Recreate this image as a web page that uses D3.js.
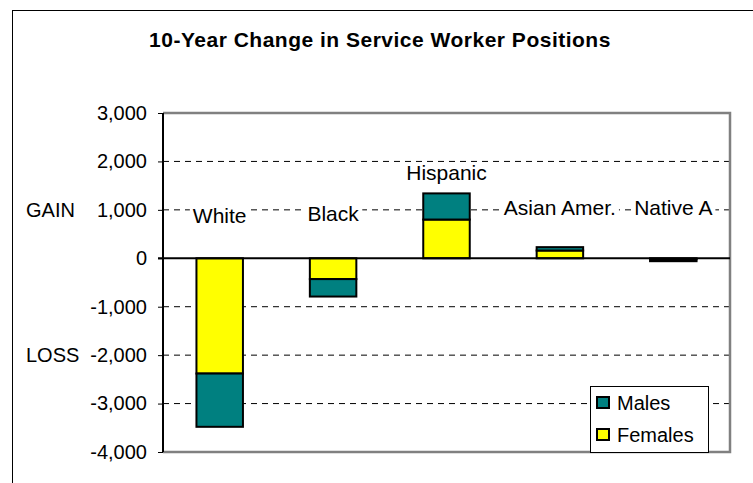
<!DOCTYPE html>
<html>
<head>
<meta charset="utf-8">
<script src="https://cdn.jsdelivr.net/npm/d3@7"></script>
<style>
  html, body { margin: 0; padding: 0; background: #fff; }
  svg { display: block; font-family: "Liberation Sans", Arial, sans-serif; }
</style>
</head>
<body>
<svg id="chart" width="753" height="483"></svg>
<script>
const title = "10-Year Change in Service Worker Positions";
const categories = ["White", "Black", "Hispanic", "Asian Amer.", "Native A"];
const seriesNames = ["Females", "Males"];
const females = [-2380, -430, 800, 160, -20];
const males = [-1100, -360, 540, 70, -40];
const labelAnchors = [730, 770, 1620, 895, 895];
const yTicks = [-4000, -3000, -2000, -1000, 0, 1000, 2000, 3000];
const sideLabels = [{text: "GAIN", value: 1000}, {text: "LOSS", value: -2000}];
const legendOrder = ["Males", "Females"];
const colors = {Females: "#FFFF00", Males: "#008080"};

const svg = d3.select("#chart");
const plot = {left: 163, right: 730, top: 113, bottom: 452};

// outer chart frame
svg.append("rect").attr("x", 12.5).attr("y", 10.5).attr("width", 800).attr("height", 600)
  .attr("fill", "#fff").attr("stroke", "#000").attr("stroke-width", 1);

svg.append("text").attr("x", 380).attr("y", 47).attr("text-anchor", "middle")
  .attr("font-size", 21).attr("font-weight", "bold").attr("letter-spacing", 0.5)
  .text(title);

const x = d3.scaleBand().domain(categories).range([plot.left, plot.right]);
const y = d3.scaleLinear().domain([-4000, 3000]).range([plot.bottom, plot.top]);

// dashed gridlines
svg.append("g").selectAll("line")
  .data(yTicks.filter(t => t !== 0 && t !== 3000 && t !== -4000))
  .join("line")
  .attr("x1", plot.left).attr("x2", plot.right)
  .attr("y1", d => y(d)).attr("y2", d => y(d))
  .attr("stroke", "#000").attr("stroke-width", 1).attr("stroke-dasharray", "6,5");

// plot area border (gray)
svg.append("path")
  .attr("d", `M${plot.left},${plot.top}H${plot.right}V${plot.bottom}H${plot.left}`)
  .attr("fill", "none").attr("stroke", "#808080").attr("stroke-width", 2.5);

// stacked bars
const rows = categories.map((c, i) => ({cat: c, Females: females[i], Males: males[i]}));
const stack = d3.stack().keys(seriesNames).offset(d3.stackOffsetDiverging);
const stacked = stack(rows);
const bw = x.bandwidth() * 0.41;

const labels = svg.append("g").attr("font-size", 21);
labels.selectAll("text").data(categories).join("text")
  .attr("x", d => x(d) + x.bandwidth() / 2)
  .attr("y", (d, i) => y(labelAnchors[i]))
  .attr("text-anchor", "middle")
  .text(d => d);

// white background behind labels to break gridlines
labels.selectAll("text").each(function() {
  const b = this.getBBox();
  labels.insert("rect", () => this).attr("x", b.x - 3).attr("y", b.y + 2)
    .attr("width", b.width + 6).attr("height", b.height - 4).attr("fill", "#fff");
});

svg.append("g").selectAll("g").data(stacked).join("g")
  .attr("fill", d => colors[d.key])
  .selectAll("rect").data(d => d).join("rect")
  .attr("x", d => x(d.data.cat) + (x.bandwidth() - bw) / 2)
  .attr("width", bw)
  .attr("y", d => y(Math.max(d[0], d[1])))
  .attr("height", d => Math.abs(y(d[0]) - y(d[1])))
  .attr("stroke", "#000").attr("stroke-width", 2);

// y axis
const fmt = d3.format(",");
const yAxis = d3.axisLeft(y).tickValues(yTicks).tickSize(5).tickPadding(11)
  .tickFormat(d => fmt(d).replace("\u2212", "-"));
const ya = svg.append("g").attr("transform", `translate(${plot.left},0)`).call(yAxis);
ya.select(".domain").attr("stroke", "#000").attr("stroke-width", 2)
  .attr("d", `M0,${plot.top}V${plot.bottom}`);
ya.selectAll(".tick line").attr("stroke", "#000").attr("stroke-width", 1);
ya.selectAll(".tick text").attr("font-size", 20).attr("fill", "#000")
  .attr("font-family", "Liberation Sans, Arial, sans-serif");

// zero line
svg.append("line").attr("x1", plot.left - 5).attr("x2", plot.right)
  .attr("y1", y(0)).attr("y2", y(0)).attr("stroke", "#000").attr("stroke-width", 2);

// GAIN / LOSS
svg.append("g").selectAll("text").data(sideLabels).join("text")
  .attr("x", 26).attr("y", d => y(d.value)).attr("dy", "0.35em")
  .attr("font-size", 20).text(d => d.text);

// legend
const lg = svg.append("g").attr("transform", "translate(590,386)");
lg.append("rect").attr("x", 0.5).attr("y", 0.5).attr("width", 118).attr("height", 66)
  .attr("fill", "#fff").attr("stroke", "#000").attr("stroke-width", 1);
const li = lg.selectAll("g.item").data(legendOrder).join("g").attr("class", "item")
  .attr("transform", (d, i) => `translate(7,${11 + i * 32})`);
li.append("rect").attr("width", 12).attr("height", 11)
  .attr("fill", d => colors[d]).attr("stroke", "#000").attr("stroke-width", 2);
li.append("text").attr("x", 20).attr("y", 6).attr("dy", "0.35em")
  .attr("font-size", 20).text(d => d);
</script>
</body>
</html>
